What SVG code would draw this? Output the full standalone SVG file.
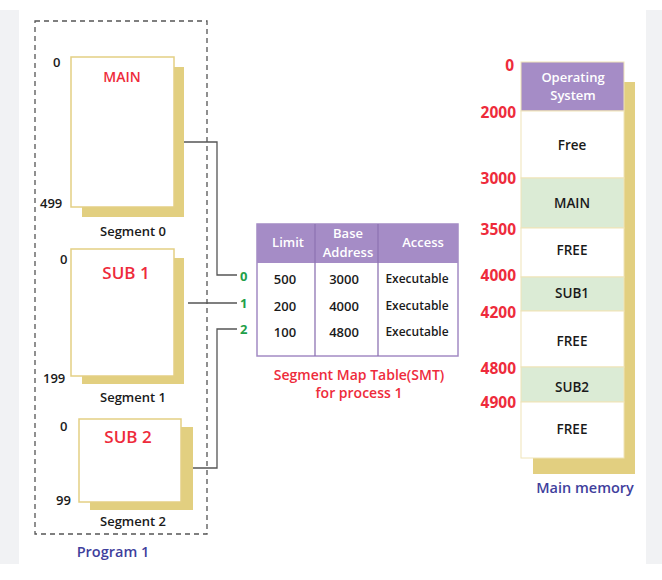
<svg xmlns="http://www.w3.org/2000/svg" width="662" height="580" viewBox="0 0 662 580">
<style>
text{font-family:"Open Sans","Liberation Sans",sans-serif;font-weight:600;}
.blk{fill:#1a1a1a;font-size:13px;}
.sm{fill:#1a1a1a;font-size:12px;}
.red{fill:#ee2b3b;}
.grn{fill:#1fa04a;font-size:13px;font-weight:700;}
.wh{fill:#ffffff;font-size:13px;}
.page{fill:#ffffff;stroke:#e4cf84;stroke-width:1.5;}
.shadow{fill:#e2cf80;}
.conn{fill:none;stroke:#555555;stroke-width:1.3;}
.mfree{fill:#ffffff;stroke:#efe4b8;stroke-width:1;}
.mused{fill:#dbebd5;stroke:#efe4b8;stroke-width:1;}
.addr{fill:#ee2b3b;font-size:15.5px;font-weight:700;text-anchor:end;}
.c{text-anchor:middle;}
.blue{fill:#3f3f9d;font-size:14.5px;}
.mem{fill:#1a1a1a;font-size:13.5px;}
</style>
<rect x="0" y="0" width="662" height="580" fill="#ffffff"/>
<rect x="0" y="10" width="19" height="554" fill="#f1f2f4"/>
<rect x="646" y="10" width="16" height="554" fill="#f1f2f4"/>

<g id="program1">
<rect x="35" y="21" width="172" height="513" fill="none" stroke="#555555" stroke-width="1.3" stroke-dasharray="5,4"/>
<text class="blue c" x="113" y="557">Program 1</text>
</g>

<g id="segment0">
<rect class="shadow" x="82" y="67" width="102" height="150"/>
<rect class="page" x="71" y="57" width="103" height="150"/>
<text class="red c" x="122" y="82" font-size="14">MAIN</text>
<text class="blk" x="53" y="67">0</text>
<text class="blk" x="40" y="208">499</text>
<text class="blk c" x="133" y="236">Segment 0</text>
</g>

<g id="segment1">
<rect class="shadow" x="82" y="258" width="102" height="126"/>
<rect class="page" x="71" y="249" width="103" height="127"/>
<text class="red c" x="126" y="279" font-size="17">SUB 1</text>
<text class="blk" x="60" y="264">0</text>
<text class="blk" x="43" y="383">199</text>
<text class="blk c" x="133" y="402">Segment 1</text>
</g>

<g id="segment2">
<rect class="shadow" x="90" y="427" width="103" height="83"/>
<rect class="page" x="79" y="419" width="102" height="83"/>
<text class="red c" x="128" y="443" font-size="17">SUB 2</text>
<text class="blk" x="60" y="431">0</text>
<text class="blk" x="56" y="505">99</text>
<text class="blk c" x="133" y="526">Segment 2</text>
</g>

<g id="connectors">
<polyline class="conn" points="184,142 217,142 217,275 237,275"/>
<polyline class="conn" points="188,303 237,303"/>
<polyline class="conn" points="193,468 217,468 217,329 237,329"/>
<text class="grn" x="240" y="281">0</text>
<text class="grn" x="240" y="308">1</text>
<text class="grn" x="240" y="334">2</text>
</g>

<g id="smt">
<rect x="257" y="224" width="201" height="132" fill="#ffffff" stroke="#a38bc4" stroke-width="1.5"/>
<rect x="257" y="224" width="201" height="39" fill="#a58cc6"/>
<line x1="315" y1="224" x2="315" y2="356" stroke="#8e74b3" stroke-width="1.3"/>
<line x1="378" y1="224" x2="378" y2="356" stroke="#8e74b3" stroke-width="1.3"/>
<text class="wh c" x="288" y="247">Limit</text>
<text class="wh c" x="348" y="238">Base</text>
<text class="wh c" x="348" y="257">Address</text>
<text class="wh c" x="423" y="247">Access</text>
<text class="blk c" x="285" y="284">500</text>
<text class="blk c" x="344" y="284">3000</text>
<text class="sm c" x="417" y="283">Executable</text>
<text class="blk c" x="285" y="311">200</text>
<text class="blk c" x="344" y="311">4000</text>
<text class="sm c" x="417" y="310">Executable</text>
<text class="blk c" x="285" y="337">100</text>
<text class="blk c" x="344" y="337">4800</text>
<text class="sm c" x="417" y="336">Executable</text>
<text class="red c" x="359" y="380" font-size="14">Segment Map Table(SMT)</text>
<text class="red c" x="359" y="398" font-size="14">for process 1</text>
</g>

<g id="mainmemory">
<rect class="shadow" x="533" y="82" width="102" height="392"/>
<rect x="521" y="62" width="103" height="49" fill="#a58cc6" stroke="#efe4b8" stroke-width="1"/>
<rect class="mfree" x="521" y="111" width="103" height="67"/>
<rect class="mused" x="521" y="178" width="103" height="50"/>
<rect class="mfree" x="521" y="228" width="103" height="49"/>
<rect class="mused" x="521" y="277" width="103" height="34"/>
<rect class="mfree" x="521" y="311" width="103" height="56"/>
<rect class="mused" x="521" y="367" width="103" height="35"/>
<rect class="mfree" x="521" y="402" width="103" height="56"/>
<text class="wh c" x="573" y="82" font-size="13.5">Operating</text>
<text class="wh c" x="573" y="100" font-size="13.5">System</text>
<text class="mem c" x="572" y="150">Free</text>
<text class="mem c" x="572" y="208">MAIN</text>
<text class="mem c" x="572" y="255">FREE</text>
<text class="mem c" x="572" y="298">SUB1</text>
<text class="mem c" x="572" y="346">FREE</text>
<text class="mem c" x="572" y="392">SUB2</text>
<text class="mem c" x="572" y="434">FREE</text>
<text class="addr" x="514" y="71">0</text>
<text class="addr" x="516" y="118">2000</text>
<text class="addr" x="516" y="184">3000</text>
<text class="addr" x="516" y="235">3500</text>
<text class="addr" x="516" y="281">4000</text>
<text class="addr" x="516" y="318">4200</text>
<text class="addr" x="516" y="374">4800</text>
<text class="addr" x="516" y="408">4900</text>
<text class="blue c" x="585" y="493">Main memory</text>
</g>
</svg>
